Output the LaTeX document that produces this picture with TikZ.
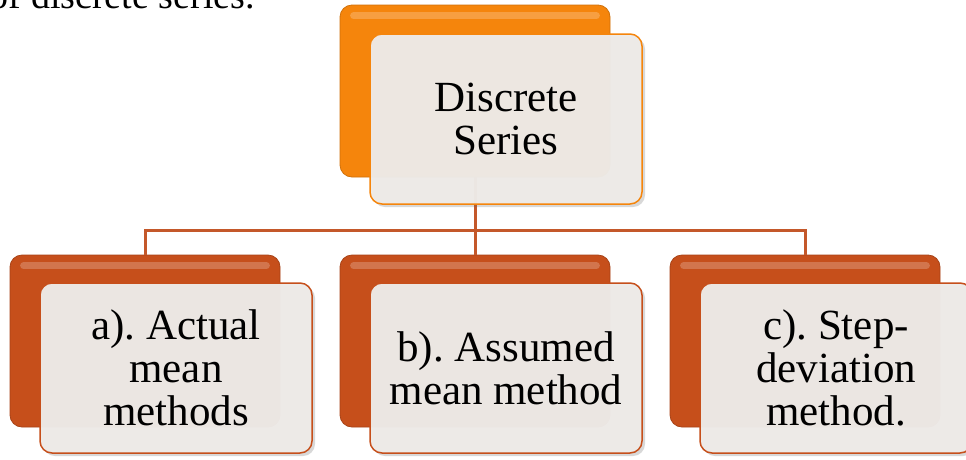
\documentclass[tikz,border=0pt]{standalone}
\usepackage{fontspec}
\setmainfont{Liberation Serif}
\usetikzlibrary{shadows,calc}
\definecolor{topor}{HTML}{F5850C}
\definecolor{botor}{HTML}{C64F1B}
\definecolor{frontfill}{HTML}{EEEBE8}
\definecolor{conncol}{HTML}{C4582A}
\frenchspacing
\tikzset{
  backbox/.style={draw=#1!85!black, line width=0.8pt, fill=#1, rounded corners=12pt,
    minimum width=270pt, minimum height=172pt, inner sep=0pt},
  frontbox/.style={draw=#1, line width=1.5pt, fill=frontfill, fill opacity=0.97, text opacity=1,
    rounded corners=12pt, minimum width=272pt, minimum height=170pt, inner sep=0pt,
    align=center, font=\fontsize{43}{43}\selectfont,
    drop shadow={shadow xshift=3pt, shadow yshift=-3pt, opacity=0.25, fill=black!60}},
  conn/.style={draw=conncol, line width=3pt},
  gloss/.style={draw=white, opacity=0.22, line width=7pt, line cap=round},
  captext/.style={font=\fontsize{38}{40}\selectfont, inner sep=0pt},
}
\begin{document}
\begin{tikzpicture}[x=1pt, y=-1pt]
\useasboundingbox (0,0) rectangle (966,459);
\clip (0,0) rectangle (966,459);
\fill[white] (0,0) rectangle (966,459);

% partial caption cut off at the top
\node[captext, anchor=base east] (cap) at (255,8) {of discrete series.};

% back boxes
\node[backbox=topor] (tb) at (475,91) {};
\node[backbox=botor] (lb) at (145,341) {};
\node[backbox=botor] (mb) at (475,341) {};
\node[backbox=botor] (rb) at (805,341) {};
\foreach \n in {tb,lb,mb,rb}{
  \draw[gloss] ($(\n.north west)+(14,11)$) -- ($(\n.north east)+(-14,11)$);
}

% connectors
\coordinate (bus) at (475,230);
\draw[conn] (tb.south) -- (bus);
\draw[conn] (bus) -| (lb.north);
\draw[conn] (bus) -| (rb.north);
\draw[conn] (bus) -- (mb.north);

% front boxes
\node[frontbox=topor] (tf) at (506,119) {Discrete\\Series};
\node[frontbox=botor] (lf) at (176,368) {a). Actual\\mean\\methods};
\node[frontbox=botor] (mf) at (506,368) {b). Assumed\\mean method};
\node[frontbox=botor] (rf) at (836,368) {c). Step-\\deviation\\method.};
\end{tikzpicture}
\end{document}
